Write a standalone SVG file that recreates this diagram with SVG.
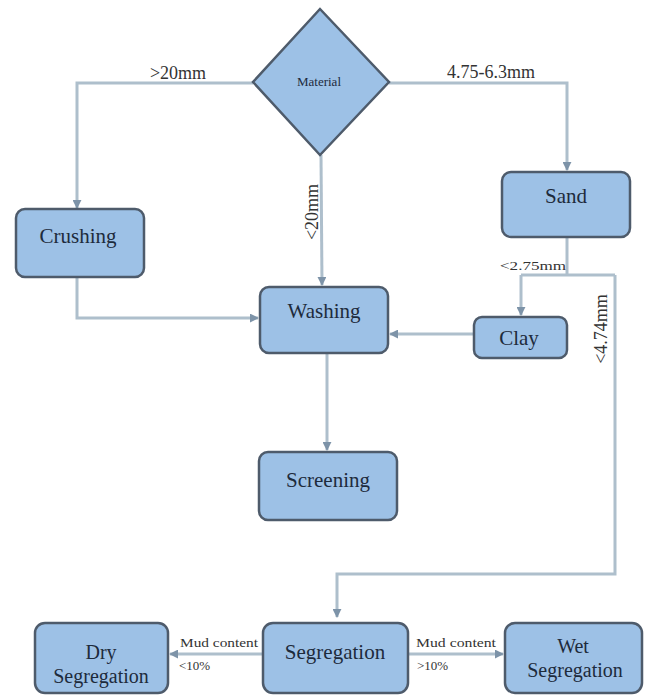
<svg xmlns="http://www.w3.org/2000/svg" width="647" height="695" viewBox="0 0 647 695">
<style>
.box{fill:#9dc1e6;stroke:#4e5b6b;stroke-width:2.5}
text{font-family:'Liberation Serif','Times New Roman',Times,serif}
.lbl{fill:#1d2b3c;text-anchor:middle}
.big{font-size:21px}
.sm{font-size:18px;fill:#333}
.xs{font-size:13px;fill:#333}
.conn{fill:none;stroke:#aebfcc;stroke-width:3}
</style>
<defs>
<marker id="ah" viewBox="0 0 10 10" refX="9" refY="5" markerWidth="3" markerHeight="3" orient="auto" markerUnits="strokeWidth">
<path d="M0,0 L10,5 L0,10 z" fill="#7d93a8"/>
</marker>
</defs>
<rect width="647" height="695" fill="#ffffff"/>
<g id="connectors">
<path class="conn" d="M253,83 H77 V208" marker-end="url(#ah)"/>
<path class="conn" d="M389,83 H567 V170" marker-end="url(#ah)"/>
<path class="conn" d="M321,155 L322,285" marker-end="url(#ah)"/>
<path class="conn" d="M77,277 V318 H258" marker-end="url(#ah)"/>
<path class="conn" d="M567,237 V275"/>
<path class="conn" d="M521,275 H615"/>
<path class="conn" d="M521,275 V315" marker-end="url(#ah)"/>
<path class="conn" d="M615,275 V574 H337 V617" marker-end="url(#ah)"/>
<path class="conn" d="M474,334 H390" marker-end="url(#ah)"/>
<path class="conn" d="M327,353 V450" marker-end="url(#ah)"/>
<path class="conn" d="M263,654 H170" marker-end="url(#ah)"/>
<path class="conn" d="M408,654 H503" marker-end="url(#ah)"/>
<text class="lbl sm" x="178" y="79">&gt;20mm</text>
<text class="lbl sm" x="491" y="78">4.75-6.3mm</text>
<text class="lbl xs" x="533" y="270" textLength="66" lengthAdjust="spacingAndGlyphs">&lt;2.75mm</text>
<text class="lbl sm" transform="translate(318,212) rotate(-90)">&lt;20mm</text>
<text class="lbl sm" transform="translate(607,329) rotate(-90)">&lt;4.74mm</text>
<text class="lbl xs" x="219" y="647" textLength="78" lengthAdjust="spacingAndGlyphs">Mud content</text>
<text class="lbl xs" x="179" y="670" style="text-anchor:start">&lt;10%</text>
<text class="lbl xs" x="456" y="647" textLength="80" lengthAdjust="spacingAndGlyphs">Mud content</text>
<text class="lbl xs" x="417" y="670" style="text-anchor:start">&gt;10%</text>
</g>
<g id="material">
<polygon class="box" points="320,9 389,82 320,155 253,82"/>
<text class="lbl" x="319" y="86" font-size="13">Material</text>
</g>
<g id="crushing">
<rect class="box" x="16" y="209" width="128" height="68" rx="9"/>
<text class="lbl big" x="78" y="243">Crushing</text>
</g>
<g id="sand">
<rect class="box" x="502" y="172" width="128" height="65" rx="9"/>
<text class="lbl big" x="566" y="203">Sand</text>
</g>
<g id="washing">
<rect class="box" x="260" y="287" width="128" height="66" rx="9"/>
<text class="lbl big" x="324" y="318">Washing</text>
</g>
<g id="clay">
<rect class="box" x="474" y="317" width="93" height="41" rx="8"/>
<text class="lbl big" x="519" y="345">Clay</text>
</g>
<g id="screening">
<rect class="box" x="259" y="452" width="138" height="68" rx="9"/>
<text class="lbl big" x="328" y="487">Screening</text>
</g>
<g id="segregation">
<rect class="box" x="263" y="623" width="145" height="70" rx="10"/>
<text class="lbl big" x="335" y="659">Segregation</text>
</g>
<g id="dry-segregation">
<rect class="box" x="35" y="623" width="133" height="70" rx="10"/>
<text class="lbl" font-size="20" x="101" y="659">Dry</text>
<text class="lbl" font-size="20" x="101" y="683">Segregation</text>
</g>
<g id="wet-segregation">
<rect class="box" x="505" y="623" width="137" height="70" rx="10"/>
<text class="lbl" font-size="20" x="573" y="653">Wet</text>
<text class="lbl" font-size="20" x="575" y="677">Segregation</text>
</g>
</svg>
